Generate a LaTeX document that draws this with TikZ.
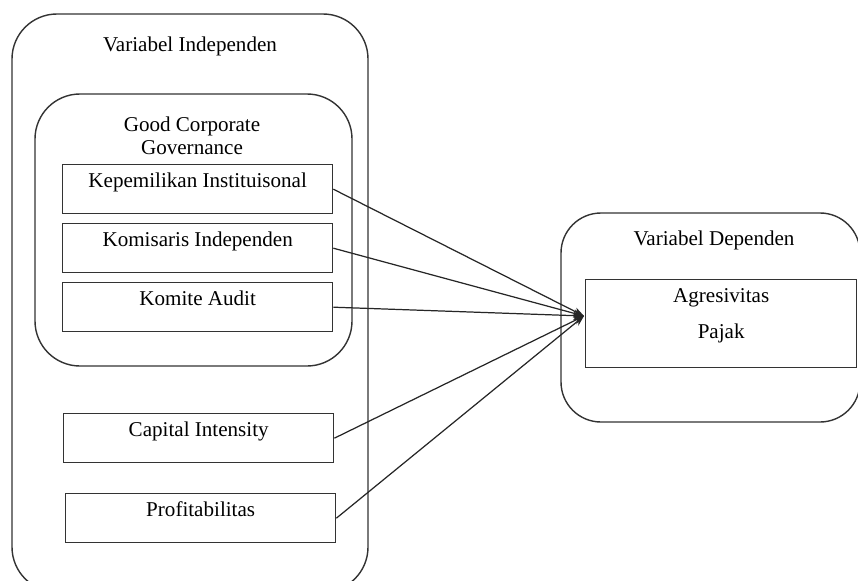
\documentclass[tikz,border=0pt]{standalone}
\usepackage{fontspec}
\setmainfont{Liberation Serif}
\usetikzlibrary{
    positioning,
    arrows.meta
}
\tikzset{
    >={Stealth[length=6pt,width=4.5pt]},
    grupo/.style={
        draw=black!80,
        line width=0.8pt,
        rounded corners=0.9cm
    },
    varcaja/.style={
        draw=black!80,
        line width=0.8pt,
        minimum width=5.4cm,
        minimum height=0.98cm,
        inner sep=0pt,
        anchor=north west
    },
    titulo/.style={
        anchor=north,
        inner sep=0pt,
        align=center,
        font=\fontsize{12}{13}\selectfont
    },
    etiqueta/.style={
        label={[titulo, yshift=-5pt]north:#1}
    }
}

\begin{document}
\begin{tikzpicture}[
    x=0.02cm,
    y=-0.02cm,
    >={Stealth[length=6pt,width=4.5pt]}
]

    \useasboundingbox (0,0) rectangle (858,581);
    \clip (0,0) rectangle (858,581);

    % Grupos
    \draw[grupo] (12,14) rectangle (368,592);
    \draw[grupo] (35,94) rectangle (352,366);
    \draw[grupo, rounded corners=0.8cm] (561,213) rectangle (860,422);

    % Titulos
    \node[titulo] (tind) at (190,37)  {Variabel Independen};
    \node[titulo] (tgcg) at (192,117) {Good Corporate\\Governance};
    \node[titulo] (tdep) at (714,231) {Variabel Dependen};

    % Variables independientes
    \node[varcaja, etiqueta={Kepemilikan Instituisonal}] (ki)   at (62,164) {};
    \node[varcaja, etiqueta={Komisaris Independen}]      (komi) at (62,223) {};
    \node[varcaja, etiqueta={Komite Audit}]              (ka)   at (62,282) {};
    \node[varcaja, etiqueta={Capital Intensity}]         (ci)   at (63,413) {};
    \node[varcaja, etiqueta={Profitabilitas}]            (prof) at (65,493) {};

    % Variable dependiente
    \node[varcaja, minimum width=5.42cm, minimum height=1.76cm,
          etiqueta={Agresivitas\\[8pt]Pajak}] (agr) at (585,279) {};

    \coordinate (hub) at (584,316);

    % Relaciones
    \path[->, every edge/.append style={draw=black!85, line width=0.7pt}]
        (ki.east)   edge (hub)
        (komi.east) edge (hub)
        (ka.east)   edge (hub)
        (ci.east)   edge (hub)
        (prof.east) edge (hub);

\end{tikzpicture}
\end{document}
